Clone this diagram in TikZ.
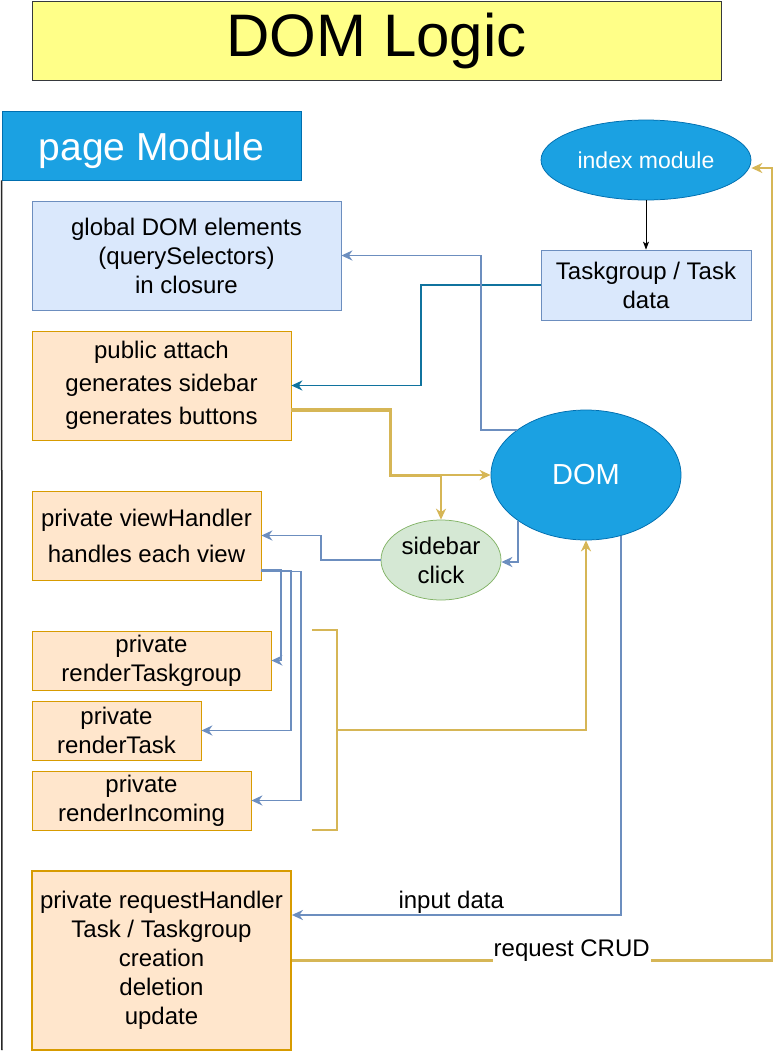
\documentclass[tikz,border=0pt]{standalone}
\usepackage{fontspec}
\setmainfont{Liberation Sans}
\usetikzlibrary{arrows.meta,shapes.geometric}
\definecolor{titlefill}{HTML}{FFFF88}
\definecolor{titledraw}{HTML}{36393D}
\definecolor{modfill}{HTML}{1BA1E2}
\definecolor{moddraw}{HTML}{006EAF}
\definecolor{bluefill}{HTML}{DAE8FC}
\definecolor{bluedraw}{HTML}{6C8EBF}
\definecolor{orfill}{HTML}{FFE6CC}
\definecolor{ordraw}{HTML}{D79B00}
\definecolor{grfill}{HTML}{D5E8D4}
\definecolor{grdraw}{HTML}{82B366}
\definecolor{yel}{HTML}{D6B656}
\definecolor{darkblue}{HTML}{10739E}
\tikzset{
  box/.style={draw, rectangle, inner sep=0pt, align=center, line width=0.75pt,
    font=\fontsize{24}{29}\selectfont},
  bluebox/.style={box, fill=bluefill, draw=bluedraw},
  orbox/.style={box, fill=orfill, draw=ordraw},
  modell/.style={ellipse, inner sep=0pt, fill=modfill, draw=moddraw, line width=0.75pt, text=white, align=center},
  tip/.style={-{Stealth[length=11pt,width=10pt,inset=3.5pt]}},
  bluec/.style={tip, draw=bluedraw, line width=1.9pt},
  yelc/.style={tip, draw=yel, line width=2.2pt},
  lbl/.style={fill=white, inner sep=1pt, font=\fontsize{24}{29}\selectfont}
}
\begin{document}
\begin{tikzpicture}[x=1pt,y=-1pt]
\useasboundingbox (0,0) rectangle (781,1053);
% title
\node[draw=titledraw, fill=titlefill, line width=0.75pt, minimum width=689pt, minimum height=79pt,
  inner sep=0pt, font=\fontsize{60}{60}\selectfont] (title) at (376.5,40.5) {DOM Logic};
% page module
\node[rectangle, fill=modfill, draw=moddraw, line width=0.75pt, minimum width=299pt, minimum height=69pt,
  inner sep=0pt, text height=32pt, text depth=3pt, text=white, font=\fontsize{39}{39}\selectfont] (page) at (151.5,145.5) {page Module};
\coordinate (lineend) at (2,1050);
\draw[line width=1.5pt, black!85] (page.south west) -- (lineend);
% nodes
\node[modell, minimum width=210pt, minimum height=80pt, font=\fontsize{23}{28}\selectfont] (index) at (646,160) {index module};
\node[bluebox, minimum width=210pt, minimum height=70pt] (tdata) at (646,285) {Taskgroup / Task\\data};
\node[bluebox, minimum width=309pt, minimum height=109pt] (glob) at (186.5,255.5) {global DOM elements\\(querySelectors)\\in closure};
\node[orbox, minimum width=259pt, minimum height=109pt, font=\fontsize{24}{33}\selectfont] (pub) at (161.5,385.5) {public attach\\generates sidebar\\generates buttons};
\node[modell, minimum width=190pt, minimum height=130pt, font=\fontsize{29}{29}\selectfont] (dom) at (586,475) {DOM};
\node[ellipse, inner sep=0pt, fill=grfill, draw=grdraw, line width=0.75pt, minimum width=120pt, minimum height=80pt,
  align=center, font=\fontsize{24}{29}\selectfont] (side) at (441,560) {sidebar\\click};
\node[orbox, minimum width=229pt, minimum height=89pt, font=\fontsize{24}{36}\selectfont] (view) at (146.5,535.5) {private viewHandler\\handles each view};
\node[orbox, minimum width=239pt, minimum height=59pt] (rtg) at (151.5,660.5) {private\\renderTaskgroup};
\node[orbox, minimum width=169pt, minimum height=59pt] (rt) at (116.5,730.5) {private\\renderTask};
\node[orbox, minimum width=219pt, minimum height=59pt] (ri) at (141.5,800.5) {private\\renderIncoming};
\node[orbox, line width=1.75pt, minimum width=259pt, minimum height=179pt] (req) at (161.5,960.5) {private requestHandler\\Task / Taskgroup\\creation\\deletion\\update};
% connectors
\draw[-{Stealth[length=8pt,width=6pt,inset=2pt]}, line width=0.9pt] (index) -- (tdata);
\draw[tip, draw=darkblue, line width=1.8pt] (tdata.west) -- ++(-120,0) |- (pub.east);
\draw[bluec] (dom.147) -- ++(-36,0) |- (glob.east);
\draw[yelc] ([yshift=-24pt]pub.east) -- ++(100,0) |- (dom.west);
\draw[yelc, line width=1.6pt] ([yshift=-26pt]pub.east) -- ++(98,0) |- ([yshift=-1pt]dom.west -| side.north) -- (side.north);
\draw[bluec] (dom.214.5) |- ([yshift=-2pt]side.east);
\draw[bluec] (side.west) -- ++(-60,0) |- (view.east);
\draw[bluec] ([yshift=-34pt]view.east) -- ++(20,0) |- (rtg.east);
\draw[bluec] ([yshift=-35pt]view.east) -- ++(30,0) |- (rt.east);
\draw[bluec] ([yshift=-36pt]view.east) -- ++(40,0) |- (ri.east);
% bracket
\coordinate (b1) at (312,630);
\coordinate (b2) at (312,830);
\coordinate (bm) at (337,730);
\draw[yel, line width=2.2pt] (b1) -- ++(25,0) -- ++(0,200) -- (b2);
\draw[yelc] (bm) -| (dom.south);
% data connectors
\draw[bluec] (dom.300) |- node[lbl, pos=0.758, yshift=13pt] {input data} ([yshift=45.5pt]req.east);
\draw[yelc] (req.east) -- node[lbl, pos=0.583, yshift=10pt] {request CRUD} ++(480,0) |- ([yshift=-8pt]index.east);
\end{tikzpicture}
\end{document}
